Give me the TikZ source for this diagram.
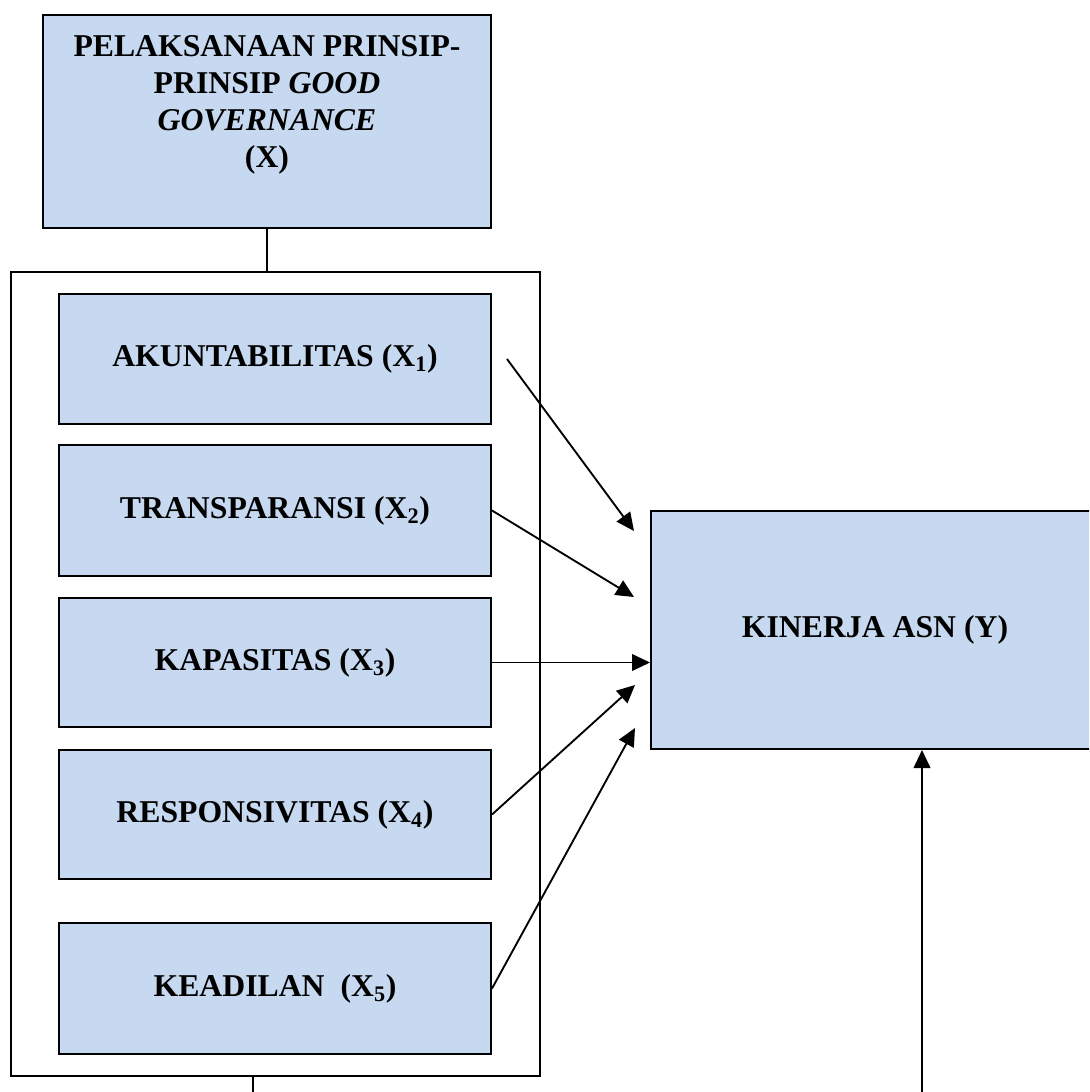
\documentclass[tikz,border=0pt]{standalone}
\usepackage{fontspec}
\setmainfont{Liberation Serif}
\usetikzlibrary{arrows.meta}
\definecolor{boxblue}{RGB}{198,217,240}
\tikzset{
  box/.style={draw=black, line width=1.5pt, fill=boxblue, rectangle, inner sep=0pt,
    font=\fontsize{23.8}{28}\selectfont\bfseries, align=center},
  frame/.style={draw=black, line width=1.5pt, rectangle, inner sep=0pt},
  conn/.style={line width=1.4pt},
  arr/.style={line width=1.4pt, -{Triangle[length=13.5pt,width=12.5pt]}},
}
\begin{document}
\begin{tikzpicture}[x=0.75pt,y=-0.75pt]
\useasboundingbox (0,0) rectangle (1089,1092);
\begin{scope}
\clip (0,0) rectangle (1089,1092);
% top box
\node[box, minimum width={448*0.75pt}, minimum height={213*0.75pt}] (X) at (267,121.5) {};
\node[font=\fontsize{23.8}{27.8}\selectfont\bfseries, align=center, inner sep=0pt, anchor=north] (Xt) at (267,35)
  {PELAKSANAAN PRINSIP-\\PRINSIP \textit{GOOD}\\\textit{GOVERNANCE}\\(X)};
% container
\node[frame, minimum width={529*0.75pt}, minimum height={804*0.75pt}] (C) at (275.5,674) {};
% inner boxes
\node[box, minimum width={432*0.75pt}, minimum height={130*0.75pt}] (X1) at (275,359) {AKUNTABILITAS (X\textsubscript{1})};
\node[box, minimum width={432*0.75pt}, minimum height={131*0.75pt}] (X2) at (275,510.5) {TRANSPARANSI (X\textsubscript{2})};
\node[box, minimum width={432*0.75pt}, minimum height={129*0.75pt}] (X3) at (275,662.5) {KAPASITAS (X\textsubscript{3})};
\node[box, minimum width={432*0.75pt}, minimum height={129*0.75pt}] (X4) at (275,814.5) {RESPONSIVITAS (X\textsubscript{4})};
\node[box, minimum width={432*0.75pt}, minimum height={131*0.75pt}] (X5) at (275,988.5) {KEADILAN\ \ (X\textsubscript{5})};
% outcome box
\node[box, minimum width={448*0.75pt}, minimum height={238*0.75pt}] (Y) at (875,630) {KINERJA ASN (Y)};
\end{scope}
% connectors
\draw[conn] (X.south) -- (X.south |- C.north);
\coordinate (a1s) at (507,359);
\coordinate (a1e) at (634,531);
\coordinate (a2e) at (634,597);
\coordinate (a4e) at (635,685);
\coordinate (a5e) at (635,728);
\draw[arr] (a1s) -- (a1e);
\draw[arr] (X2.east) -- (a2e);
\draw[arr] (X3.east) -- (X3.east -| Y.west);
\draw[arr] (X4.east) -- (a4e);
\draw[arr] (X5.east) -- (a5e);
\coordinate (bs) at (922,1092);
\draw[arr] (bs) -- (bs |- Y.south);
\coordinate (cb) at (253,1092);
\draw[conn] (cb |- C.south) -- (cb);
\end{tikzpicture}
\end{document}
